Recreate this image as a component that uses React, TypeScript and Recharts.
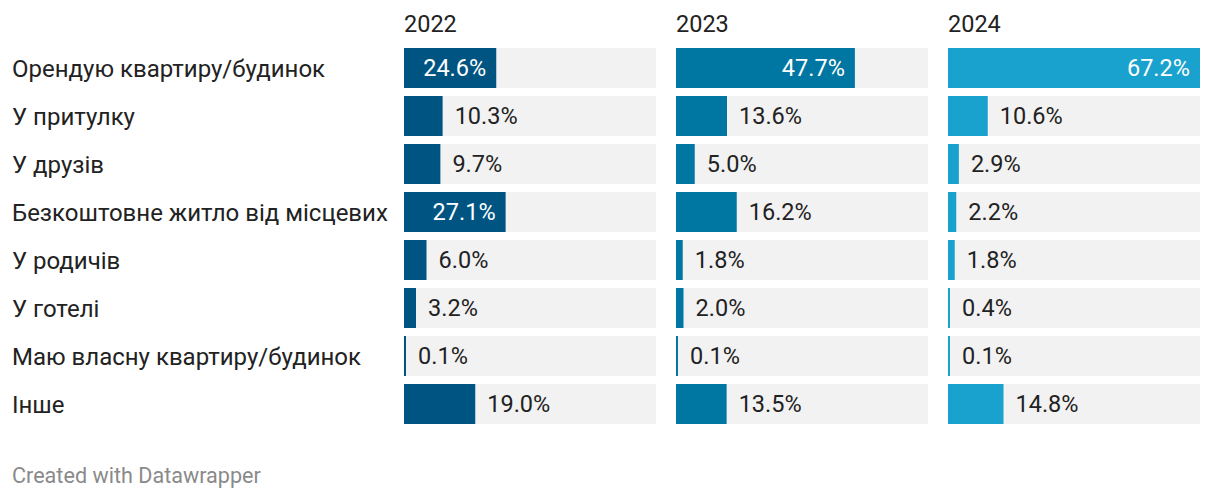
import React from 'react';
import { BarChart, Bar, XAxis, YAxis, LabelList } from 'recharts';

const categories = [
  'Орендую квартиру/будинок',
  'У притулку',
  'У друзів',
  'Безкоштовне житло від місцевих',
  'У родичів',
  'У готелі',
  'Маю власну квартиру/будинок',
  'Інше',
];
const years = ['2022', '2023', '2024'];
const values2022 = [24.6, 10.3, 9.7, 27.1, 6.0, 3.2, 0.1, 19.0];
const values2023 = [47.7, 13.6, 5.0, 16.2, 1.8, 2.0, 0.1, 13.5];
const values2024 = [67.2, 10.6, 2.9, 2.2, 1.8, 0.4, 0.1, 14.8];

const colors = ['#005482', '#0077a2', '#18a2cd'];
const FONT = 'Roboto, sans-serif';
const MAX = 67.2;

const data = categories.map((name, i) => ({
  name,
  y2022: values2022[i],
  y2023: values2023[i],
  y2024: values2024[i],
}));

function ValueLabel(props: any) {
  const { x, y, width, height, value } = props;
  const inside = value > 20;
  const cy = y + height / 2;
  return (
    <text
      x={inside ? x + width - 10 : x + width + 12}
      y={cy}
      dy="0.36em"
      textAnchor={inside ? 'end' : 'start'}
      fill={inside ? '#ffffff' : '#222222'}
      fontFamily={FONT}
      fontSize={23.5}
    >
      {value.toFixed(1)}%
    </text>
  );
}

function CategoryTick(props: any) {
  const { y, payload } = props;
  return (
    <text x={12} y={y} dy="0.36em" textAnchor="start" fill="#222222" fontFamily={FONT} fontSize={24}>
      {payload.value}
    </text>
  );
}

function Panel({ dataKey, color, width, axis }: { dataKey: string; color: string; width: number; axis: boolean }) {
  return (
    <BarChart
      width={width}
      height={428}
      data={data}
      layout="vertical"
      margin={{ top: 44, right: 0, bottom: 0, left: 0 }}
    >
      <XAxis type="number" domain={[0, MAX]} hide />
      <YAxis
        type="category"
        dataKey="name"
        width={axis ? 404 : 0}
        hide={!axis}
        axisLine={false}
        tickLine={false}
        tick={<CategoryTick />}
        interval={0}
      />
      <Bar
        dataKey={dataKey}
        fill={color}
        barSize={40}
        minPointSize={2}
        background={{ fill: '#f2f2f2' }}
        isAnimationActive={false}
      >
        <LabelList dataKey={dataKey} content={<ValueLabel />} />
      </Bar>
    </BarChart>
  );
}

export default function App() {
  const lefts = [404, 676, 948];
  return (
    <div style={{ position: 'absolute', left: 0, top: 0, width: 1220, height: 500, background: '#fff', fontFamily: FONT }}>
      {years.map((yr, i) => (
        <div key={yr} style={{ position: 'absolute', left: lefts[i], top: 10, fontSize: 23.5, color: '#222', lineHeight: '28px' }}>
          {yr}
        </div>
      ))}
      <div style={{ position: 'absolute', left: 0, top: 0 }}>
        <Panel dataKey="y2022" color={colors[0]} width={656} axis />
      </div>
      <div style={{ position: 'absolute', left: 676, top: 0 }}>
        <Panel dataKey="y2023" color={colors[1]} width={252} axis={false} />
      </div>
      <div style={{ position: 'absolute', left: 948, top: 0 }}>
        <Panel dataKey="y2024" color={colors[2]} width={252} axis={false} />
      </div>
      <div style={{ position: 'absolute', left: 12, top: 462, fontSize: 21.6, color: '#8a8a8a', lineHeight: '28px' }}>
        Created with Datawrapper
      </div>
    </div>
  );
}
